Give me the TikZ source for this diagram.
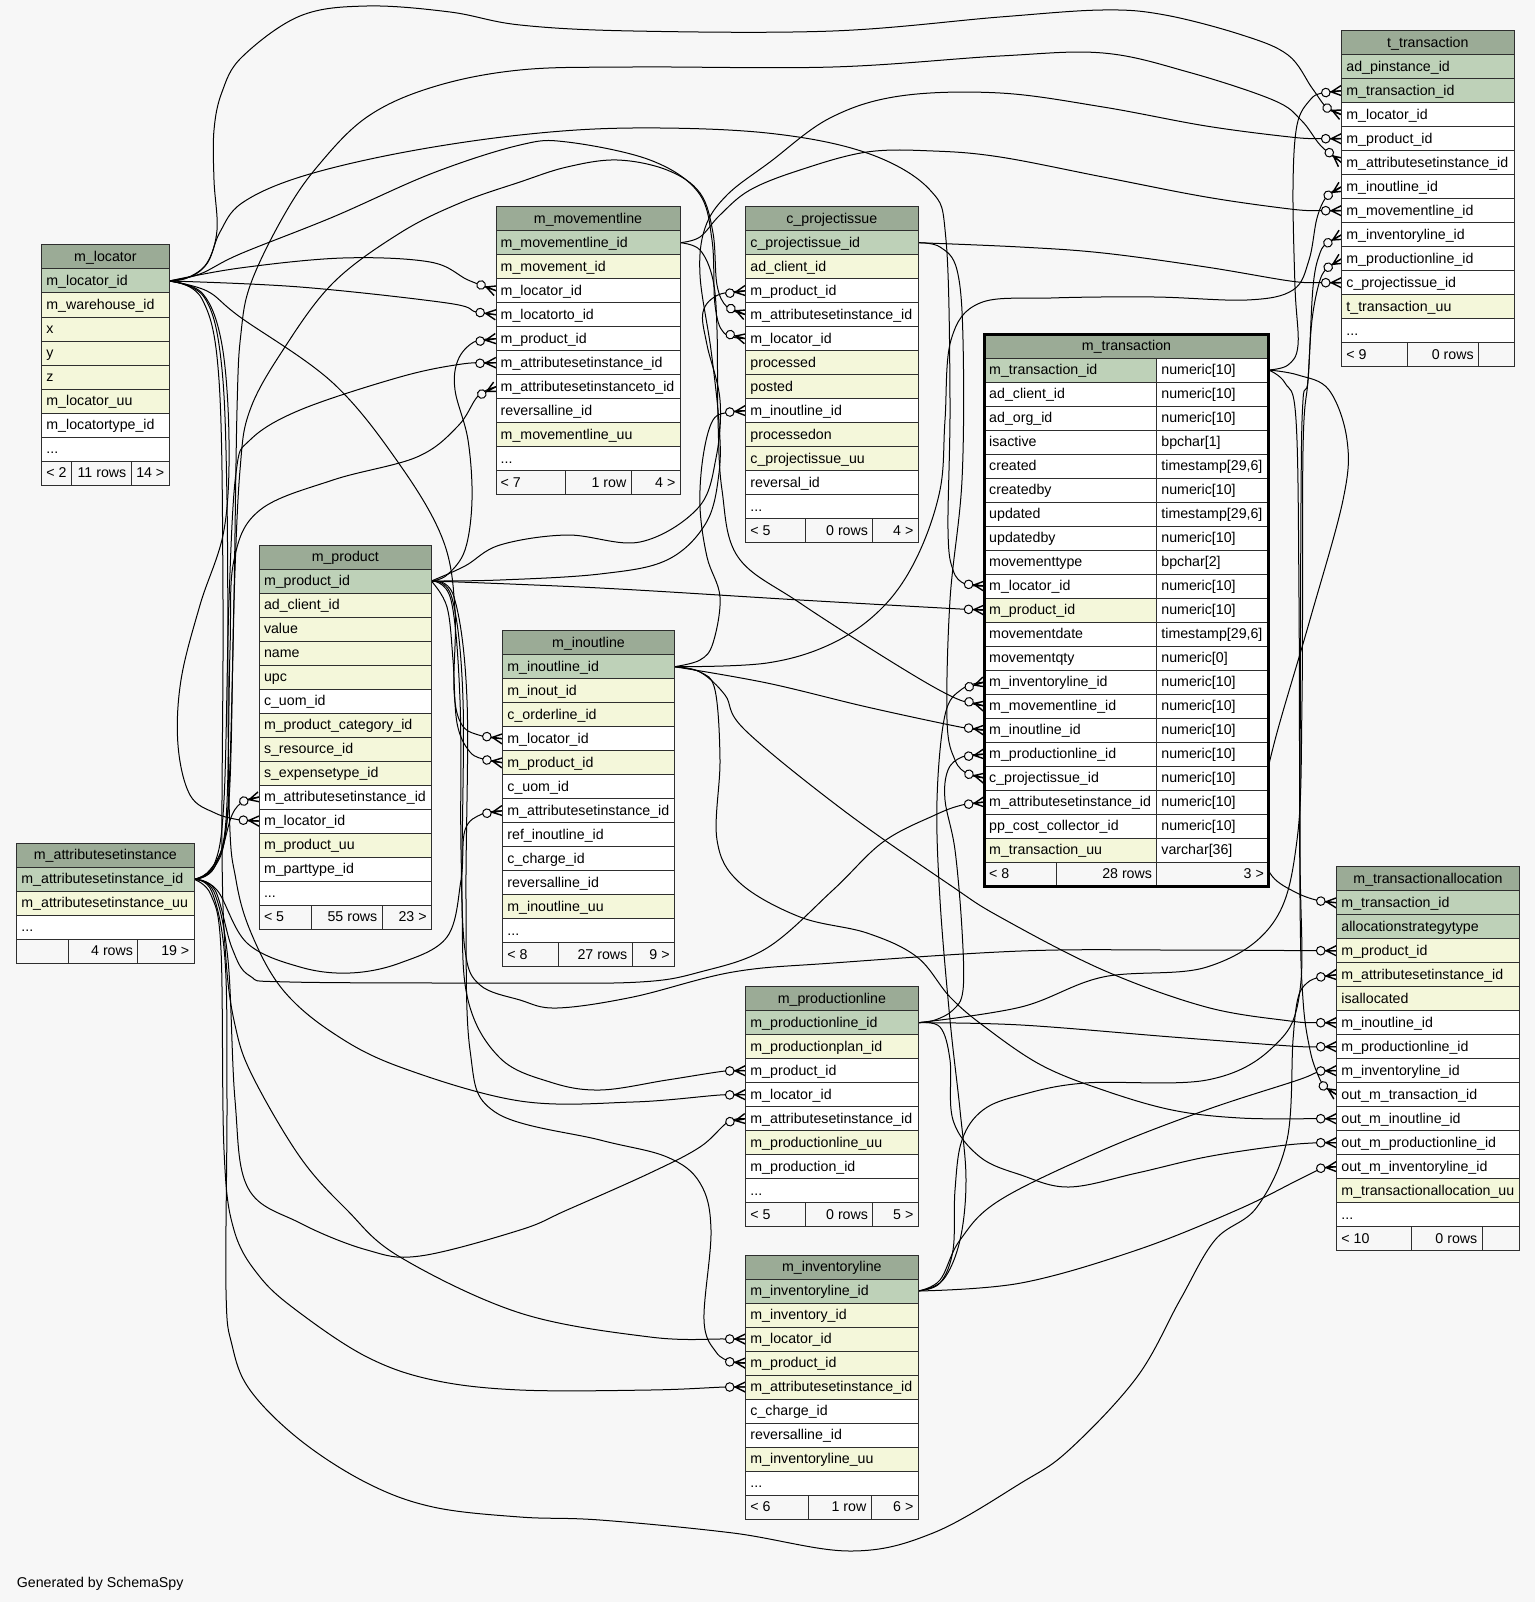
\documentclass[tikz,border=0pt]{standalone}
\usepackage{fontspec}
\setmainfont{Liberation Sans}
\usetikzlibrary{calc}
\pgfdeclarelayer{bgl}
\pgfdeclarelayer{edgel}
\pgfsetlayers{bgl,edgel,main}
\definecolor{hdrc}{HTML}{9BAB96}
\definecolor{pk}{HTML}{BED1B8}
\definecolor{ix}{HTML}{F4F7DA}
\definecolor{wh}{HTML}{FFFFFF}
\definecolor{bgc}{HTML}{F7F7F7}
\definecolor{bcol}{HTML}{2E2E2E}
\newcommand{\tabfont}{\fontsize{14.2pt}{17pt}\selectfont}
\newcommand{\tdots}{...}
\tikzset{
  cell/.style={draw=bcol, line width=1pt, rectangle, anchor=north west, minimum height=24pt, inner sep=0pt, outer sep=0pt},
  txt/.style={anchor=base west, inner sep=0pt, font=\tabfont, text=black},
  txtr/.style={anchor=base east, inner sep=0pt, font=\tabfont, text=black},
  htxt/.style={anchor=base, inner sep=0pt, font=\tabfont, text=black},
  fcell/.style={draw=bcol, line width=1pt, fill=bgc},
  edgeln/.style={draw=black, line width=1pt},
  crowfoot/.pic={
    \fill[bgc] (-16pt,0pt) circle (4.3pt);
    \draw[black,line width=1pt] (-16pt,0pt) circle (4.3pt);
    \draw[black,line width=1.4pt] (-10.5pt,0pt) -- (0pt,5.2pt) (-10.5pt,0pt) -- (0pt,-5.2pt) (-11.7pt,0pt) -- (0pt,0pt);
  }
}
\newcommand{\dbtable}[6]{%
  \node[cell, fill=hdrc, minimum width=#4] (#1-h) at (#2,#3) {};
  \node[htxt] (#1-ht) at ([yshift=-4.4pt]#1-h.center) {#5};
  \foreach \rfill/\rtext [count=\i] in {#6} {
    \node[cell, fill=\rfill, minimum width=#4] (#1-\i) at (#2,#3+24*\i) {};
    \node[txt] (#1-t\i) at ([xshift=4.5pt,yshift=-4.4pt]#1-\i.west) {\rtext};
  }%
}
\newcommand{\dbfoot}[9]{%
  \draw[fcell] (#2,#6) rectangle (#3,#6+24);
  \draw[fcell] (#3,#6) rectangle (#4,#6+24);
  \draw[fcell] (#4,#6) rectangle (#5,#6+24);
  \node[txt] (#1-f1) at (#2+4.5,#6+16.4) {#7};
  \node[txtr] (#1-f2) at (#4-4.5,#6+16.4) {#8};
  \node[txtr] (#1-f3) at (#5-4.5,#6+16.4) {#9};
}
% #1 = start anchor and waypoints, #2 = last waypoint, #3 = end anchor
\newcommand{\fkedge}[3]{%
  \draw[edgeln] plot[smooth,tension=0.6] coordinates {#1 (#2) (#3)};
  \path let \p1=(#2), \p2=(#3), \n1={atan2(\y2-\y1,\x2-\x1)} in pic[rotate=\n1] at (\p2) {crowfoot};
}
\begin{document}
\begin{tikzpicture}[x=1pt,y=-1pt]
\useasboundingbox (0,0) rectangle (1535,1602);
\begin{pgfonlayer}{bgl}
\fill[bgc] (0,0) rectangle (1535,1602);
\end{pgfonlayer}

% ---------- tables ----------
\dbtable{loc}{41.7}{245}{127.3}{m\_locator}{pk/m\_locator\_id, ix/m\_warehouse\_id, ix/x, ix/y, ix/z, ix/m\_locator\_uu, wh/m\_locatortype\_id, wh/\tdots}
\dbfoot{loc}{41.7}{71}{131}{169}{461}{< 2}{11 rows}{14 >}

\dbtable{asi}{16.7}{843.3}{177.3}{m\_attributesetinstance}{pk/m\_attributesetinstance\_id, ix/m\_attributesetinstance\_uu, wh/\tdots}
\dbfoot{asi}{16.7}{68.7}{137.7}{194}{939.3}{}{4 rows}{19 >}

\dbtable{prd}{259.3}{545}{172}{m\_product}{pk/m\_product\_id, ix/ad\_client\_id, ix/value, ix/name, ix/upc, wh/c\_uom\_id, ix/m\_product\_category\_id, ix/s\_resource\_id, ix/s\_expensetype\_id, wh/m\_attributesetinstance\_id, wh/m\_locator\_id, ix/m\_product\_uu, wh/m\_parttype\_id, wh/\tdots}
\dbfoot{prd}{259.3}{311}{382}{431.3}{905}{< 5}{55 rows}{23 >}

\dbtable{mv}{496}{206.7}{184}{m\_movementline}{pk/m\_movementline\_id, ix/m\_movement\_id, wh/m\_locator\_id, wh/m\_locatorto\_id, wh/m\_product\_id, wh/m\_attributesetinstance\_id, wh/m\_attributesetinstanceto\_id, wh/reversalline\_id, ix/m\_movementline\_uu, wh/\tdots}
\dbfoot{mv}{496}{565}{631}{680}{470.7}{< 7}{1 row}{4 >}

\dbtable{cpi}{745.7}{206.7}{172.3}{c\_projectissue}{pk/c\_projectissue\_id, ix/ad\_client\_id, wh/m\_product\_id, wh/m\_attributesetinstance\_id, wh/m\_locator\_id, ix/processed, ix/posted, wh/m\_inoutline\_id, ix/processedon, ix/c\_projectissue\_uu, wh/reversal\_id, wh/\tdots}
\dbfoot{cpi}{745.7}{805.7}{872.7}{918}{518.7}{< 5}{0 rows}{4 >}

\dbtable{io}{502.7}{630.7}{171.6}{m\_inoutline}{pk/m\_inoutline\_id, ix/m\_inout\_id, ix/c\_orderline\_id, wh/m\_locator\_id, ix/m\_product\_id, wh/c\_uom\_id, wh/m\_attributesetinstance\_id, wh/ref\_inoutline\_id, wh/c\_charge\_id, wh/reversalline\_id, ix/m\_inoutline\_uu, wh/\tdots}
\dbfoot{io}{502.7}{558.3}{632}{674.3}{942.7}{< 8}{27 rows}{9 >}

\dbtable{tt}{1341.7}{30.7}{172.3}{t\_transaction}{pk/ad\_pinstance\_id, pk/m\_transaction\_id, wh/m\_locator\_id, wh/m\_product\_id, wh/m\_attributesetinstance\_id, wh/m\_inoutline\_id, wh/m\_movementline\_id, wh/m\_inventoryline\_id, wh/m\_productionline\_id, wh/c\_projectissue\_id, ix/t\_transaction\_uu, wh/\tdots}
\dbfoot{tt}{1341.7}{1407.3}{1478.3}{1514}{342.7}{< 9}{0 rows}{}

\dbtable{ta}{1336.7}{866.7}{182.6}{m\_transactionallocation}{pk/m\_transaction\_id, pk/allocationstrategytype, ix/m\_product\_id, ix/m\_attributesetinstance\_id, ix/isallocated, wh/m\_inoutline\_id, wh/m\_productionline\_id, wh/m\_inventoryline\_id, wh/out\_m\_transaction\_id, wh/out\_m\_inoutline\_id, wh/out\_m\_productionline\_id, wh/out\_m\_inventoryline\_id, ix/m\_transactionallocation\_uu, wh/\tdots}
\dbfoot{ta}{1336.7}{1411.3}{1482}{1519.3}{1226.7}{< 10}{0 rows}{}

\dbtable{pl}{745.7}{986.7}{172.3}{m\_productionline}{pk/m\_productionline\_id, ix/m\_productionplan\_id, wh/m\_product\_id, wh/m\_locator\_id, wh/m\_attributesetinstance\_id, ix/m\_productionline\_uu, wh/m\_production\_id, wh/\tdots}
\dbfoot{pl}{745.7}{805.7}{872.7}{918}{1202.7}{< 5}{0 rows}{5 >}

\dbtable{il}{745.7}{1255}{172.3}{m\_inventoryline}{pk/m\_inventoryline\_id, ix/m\_inventory\_id, ix/m\_locator\_id, ix/m\_product\_id, ix/m\_attributesetinstance\_id, wh/c\_charge\_id, wh/reversalline\_id, ix/m\_inventoryline\_uu, wh/\tdots}
\dbfoot{il}{745.7}{808.7}{871}{918}{1495}{< 6}{1 row}{6 >}

% m_transaction (two columns, thick border)
\node[cell, fill=hdrc, minimum width=284] (mt-h) at (984.5,334) {};
\node[htxt] (mt-ht) at ([yshift=-4.4pt]mt-h.center) {m\_transaction};
\foreach \rfill/\rtext/\rtype [count=\i] in {pk/m\_transaction\_id/numeric[10], wh/ad\_client\_id/numeric[10], wh/ad\_org\_id/numeric[10], wh/isactive/bpchar[1], wh/created/{timestamp[29,6]}, wh/createdby/numeric[10], wh/updated/{timestamp[29,6]}, wh/updatedby/numeric[10], wh/movementtype/bpchar[2], wh/m\_locator\_id/numeric[10], ix/m\_product\_id/numeric[10], wh/movementdate/{timestamp[29,6]}, wh/movementqty/numeric[0], wh/m\_inventoryline\_id/numeric[10], wh/m\_movementline\_id/numeric[10], wh/m\_inoutline\_id/numeric[10], wh/m\_productionline\_id/numeric[10], wh/c\_projectissue\_id/numeric[10], wh/m\_attributesetinstance\_id/numeric[10], wh/pp\_cost\_collector\_id/numeric[10], ix/m\_transaction\_uu/varchar[36]} {
  \node[cell, fill=\rfill, minimum width=172.2] (mt-\i) at (984.5,334+24*\i) {};
  \node[cell, fill=wh, minimum width=111.8] (mtt-\i) at (1156.7,334+24*\i) {};
  \node[txt] (mt-n\i) at ([xshift=4.5pt,yshift=-4.4pt]mt-\i.west) {\rtext};
  \node[txt] (mt-y\i) at ([xshift=4.5pt,yshift=-4.4pt]mtt-\i.west) {\rtype};
}
\dbfoot{mt}{984.5}{1056}{1156.7}{1268.5}{862}{< 8}{28 rows}{3 >}
\draw[black, line width=3pt] (984.5,334) rectangle (1268.5,886);

\node[txt] (gen) at (16.7,1587) {Generated by SchemaSpy};

% ---------- connectors ----------
\begin{pgfonlayer}{edgel}
% from m_locator
\fkedge{(loc-1.east) (187,278) (207,263) (217,230) (214,180) (214,130) (222,92) (242,57) (300,16) (367,6) (450,12) (520,25) (633,31) (833,31) (1000,17) (1103,10) (1165,15) (1242,35) (1288,55) (1312,88)}{1327,108}{tt-3.west}
\fkedge{(loc-1.east) (192,276) (208,262) (220,232) (242,203) (300,177) (400,153) (520,135) (633,128) (767,133) (867,153) (930,190) (946,240) (950,400) (948,530) (953,570)}{965,584}{mt-10.west}
\fkedge{(loc-1.east) (200,274) (240,254) (333,217) (433,173) (520,145) (567,142) (650,160) (698,192) (712,240) (715,305)}{724,333}{cpi-5.west}
\fkedge{(loc-1.east) (240,268) (343,258) (430,262)}{468,280}{mv-3.west}
\fkedge{(loc-1.east) (300,287) (447,303)}{476,312}{mv-4.west}
\fkedge{(loc-1.east) (207,291) (240,317) (333,383) (400,465) (443,540) (455,610) (454,690) (462,725)}{482,736}{io-4.west}
\fkedge{(loc-1.east) (203,294) (222,345) (229,440) (224,530) (200,605) (181,680) (178,745) (190,795) (215,813)}{240,820}{prd-11.west}
\fkedge{(loc-1.east) (204,297) (221,360) (227,500) (229,800) (236,880) (252,935) (283,990) (333,1033) (400,1067) (520,1101) (633,1102)}{720,1095}{pl-4.west}
\fkedge{(loc-1.east) (202,299) (219,380) (223,600) (222,850) (226,960) (235,1025) (252,1075) (300,1157) (347,1210) (400,1257) (520,1313) (650,1337)}{725,1339}{il-3.west}
% from m_attributesetinstance
\fkedge{(asi-1.east) (215,890) (232,948) (250,976) (290,982) (520,983) (640,982) (700,972) (767,948) (833,890) (883,842) (935,815)}{962,805}{mt-19.west}
\fkedge{(asi-1.east) (212,892) (225,960) (227,1100) (226,1290) (232,1345) (250,1390) (300,1440) (367,1483) (433,1507) (520,1517) (600,1520) (733,1533) (850,1551) (933,1533) (1021,1483) (1069,1450) (1137,1377) (1180,1300) (1215,1240) (1257,1207) (1287,1140) (1293,1040) (1298,998) (1307,983)}{1320,977}{ta-4.west}
\fkedge{(asi-1.east) (211,895) (221,950) (224,1150) (234,1230) (260,1277) (300,1313) (367,1357) (433,1380) (520,1390) (650,1390)}{725,1387}{il-5.west}
\fkedge{(asi-1.east) (214,892) (228,960) (235,1100) (248,1188) (300,1223) (367,1250) (420,1256) (520,1230) (567,1210) (650,1173) (700,1147)}{728,1122}{pl-5.west}
\fkedge{(asi-1.east) (217,890) (247,943) (300,967) (350,973) (400,963) (447,937) (461,880) (465,830)}{482,814}{io-7.west}
\fkedge{(asi-1.east) (214,868) (227,820) (233,650) (237,410) (241,333) (251,283) (283,217) (317,167) (367,117) (433,87) (520,70) (633,67) (833,67) (1000,56) (1103,53) (1188,72) (1273,100) (1301,120)}{1321,146}{tt-5.west}
\fkedge{(asi-1.east) (207,873) (221,852) (232,815)}{244,801}{prd-10.west}
\fkedge{(asi-1.east) (214,865) (224,800) (229,600) (236,473) (250,440) (300,410) (400,377)}{462,364}{mv-6.west}
\fkedge{(asi-1.east) (213,867) (226,820) (230,650) (234,560) (260,510) (333,480) (417,457) (458,426)}{478,396}{mv-7.west}
\fkedge{(asi-1.east) (215,866) (229,800) (234,600) (240,470) (250,410) (283,350) (333,283) (400,233) (460,203) (520,182) (567,167) (617,160) (667,170) (700,193) (713,233) (717,285)}{727,307}{cpi-4.west}
% from m_product
\fkedge{(prd-1.east) (447,575) (465,550) (472,500) (468,440) (455,390) (458,360)}{474,342}{mv-5.west}
\fkedge{(prd-1.east) (465,566) (500,545) (567,535) (640,542) (698,508) (716,458) (720,400) (707,345) (703,312)}{718,295}{cpi-3.west}
\fkedge{(prd-1.east) (600,588) (800,600)}{960,609}{mt-11.west}
\fkedge{(prd-1.east) (500,580) (600,574) (667,560) (706,523) (719,473) (719,423) (711,350) (700,275) (705,228) (727,195) (770,162) (830,118) (900,96) (1000,93) (1103,107) (1206,126) (1290,137)}{1320,138.7}{tt-4.west}
\fkedge{(prd-1.east) (447,607) (453,660) (457,723) (470,752)}{487,760}{io-5.west}
\fkedge{(prd-1.east) (452,598) (463,700) (462,900) (468,1000) (500,1058) (550,1082) (600,1090) (667,1080)}{725,1071}{pl-3.west}
\fkedge{(prd-1.east) (454,597) (467,700) (466,900) (470,1050) (495,1112) (600,1140) (667,1157) (700,1183) (711,1230) (704,1320) (716,1352)}{732,1362}{il-4.west}
\fkedge{(prd-1.east) (451,600) (460,700) (461,850) (465,950) (480,985) (520,1000) (557,1008) (633,997) (733,972) (833,963) (1021,951) (1172,950)}{1318,950.7}{ta-3.west}
% from m_movementline
\fkedge{(mv-1.east) (700,237) (720,215) (750,190) (800,170) (867,152) (933,151) (1000,157) (1103,177) (1206,197) (1290,209)}{1320,210.7}{tt-7.west}
\fkedge{(mv-1.east) (700,250) (713,280) (717,330) (718,420) (722,490) (738,557) (800,603) (900,667)}{955,698}{mt-15.west}
% from c_projectissue
\fkedge{(cpi-1.east) (1020,247) (1103,253) (1206,267) (1290,281)}{1320,282.7}{tt-10.west}
\fkedge{(cpi-1.east) (940,247) (957,270) (963,340) (962,480) (950,600) (947,720) (955,760)}{968,774}{mt-18.west}
% from m_inoutline
\fkedge{(io-1.east) (700,660) (713,643) (720,597) (707,557) (700,507) (703,457) (713,420)}{730,412}{cpi-8.west}
\fkedge{(io-1.east) (767,663) (833,643) (883,607) (917,557) (940,490) (945,420) (951,340) (980,303) (1051,298) (1154,297) (1247,300) (1293,290) (1309,260) (1317,218)}{1327,196}{tt-6.west}
\fkedge{(io-1.east) (767,683) (867,707)}{960,727}{mt-16.west}
\fkedge{(io-1.east) (700,672) (725,695) (745,730) (843,810) (950,885) (1000,917) (1103,970) (1206,1007) (1290,1021)}{1318,1022.7}{ta-6.west}
\fkedge{(io-1.east) (700,672) (715,690) (720,760) (717,840) (740,883) (800,917) (867,933) (917,957) (950,997) (985,1027) (1041,1065) (1103,1090) (1172,1110) (1240,1118)}{1318,1118.7}{ta-10.west}
% from m_transaction
\fkedge{(mtt-1.east) (1288,365) (1298,345) (1295,287) (1293,187) (1297,125) (1310,100)}{1322,93}{tt-2.west}
\fkedge{(mtt-1.east) (1298,375) (1329,390) (1347,440) (1343,500) (1309,623) (1275,740) (1260,810) (1260,845) (1272,876) (1297,893)}{1320,901}{ta-1.west}
\fkedge{(mtt-1.east) (1285,383) (1296,420) (1299,600) (1300,900) (1303,1000) (1310,1050) (1318,1075)}{1325,1087}{ta-9.west}
% from m_productionline
\fkedge{(pl-1.east) (1021,1007) (1103,977) (1207,967) (1273,923) (1297,840) (1302,700) (1303,450) (1308,380) (1312,320) (1320,280)}{1329,266.7}{tt-9.west}
\fkedge{(pl-1.east) (935,1020) (953,1010) (963,990) (962,930) (955,850) (945,800) (948,770)}{962,757}{mt-17.west}
\fkedge{(pl-1.east) (1021,1025) (1172,1037) (1290,1046)}{1318,1046.7}{ta-7.west}
\fkedge{(pl-1.east) (940,1027) (950,1060) (953,1120) (980,1157) (1021,1175) (1069,1187) (1137,1173) (1206,1157) (1278,1146)}{1318,1142.7}{ta-11.west}
% from m_inventoryline
\fkedge{(il-1.east) (940,1283) (953,1250) (955,1190) (962,1140) (983,1110) (1021,1095) (1085,1083) (1207,1080) (1273,1047) (1300,990) (1300,840) (1301,500) (1303,400) (1308,380) (1313,287) (1320,253)}{1328,242.7}{tt-8.west}
\fkedge{(il-1.east) (1021,1283) (1137,1250) (1237,1210) (1298,1180)}{1323,1168}{ta-12.west}
\fkedge{(il-1.east) (940,1280) (960,1240) (1000,1200) (1103,1150) (1206,1110) (1298,1080)}{1320,1071}{ta-8.west}
\fkedge{(il-1.east) (943,1280) (960,1240) (966,1180) (960,1110) (950,1020) (940,900) (937,800) (945,715)}{962,689}{mt-14.west}
\end{pgfonlayer}
\end{tikzpicture}
\end{document}
